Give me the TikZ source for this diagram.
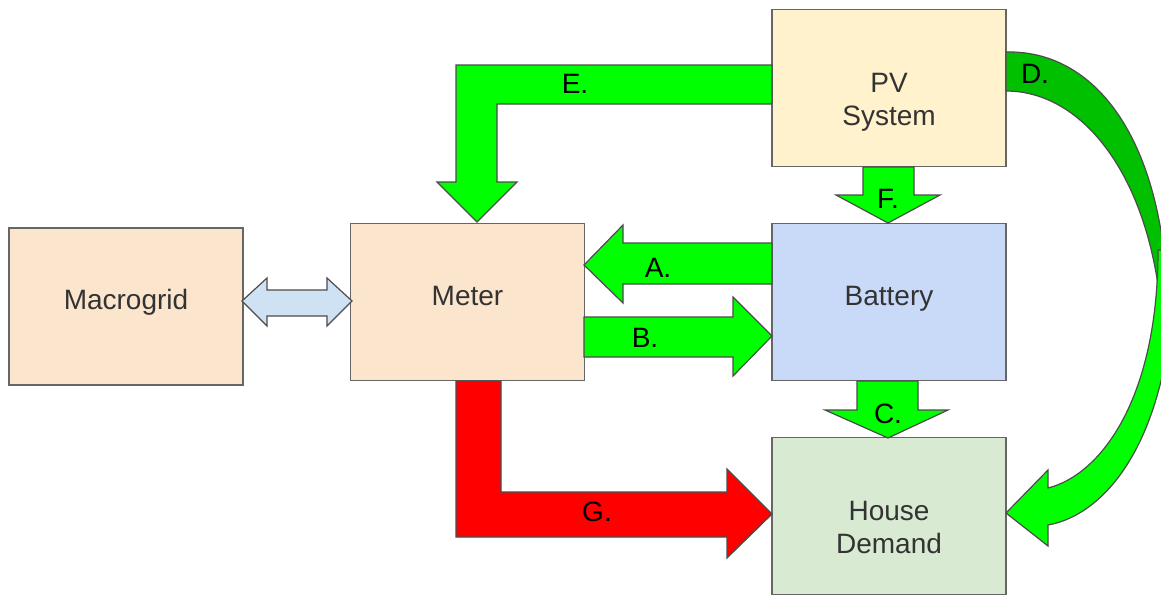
\documentclass[tikz,border=0pt]{standalone}
\usepackage{fontspec}
\setmainfont{Liberation Sans}

\definecolor{gridfill}{HTML}{FCE5CD}
\definecolor{pvfill}{HTML}{FFF2CC}
\definecolor{battfill}{HTML}{C9DAF8}
\definecolor{housefill}{HTML}{D9EAD3}
\definecolor{linkfill}{HTML}{CFE2F3}
\definecolor{flowgreen}{HTML}{00FF00}
\definecolor{flowdark}{HTML}{00C000}
\definecolor{flowred}{HTML}{FF0000}
\definecolor{edgegray}{HTML}{666666}

\begin{document}
\begin{tikzpicture}[
    x=0.5pt, y=-0.5pt,
    line width=0.6pt,
    % Style for the blocks
    block/.style={draw=edgegray, rectangle, inner sep=0pt,
        minimum width=117pt, minimum height=78.5pt,
        font=\fontsize{14}{16.5}\selectfont, text=black!80,
        text height=0.8em, text depth=0.5em},
    block2/.style={block, align=center, text height=37pt, text depth=0pt},
    % Style for the block arrows
    flow/.style={draw=black!70, fill=flowgreen, line join=miter},
    flow label/.style={anchor=base, inner sep=0pt, font=\fontsize{14}{16.5}\selectfont}
]
    \useasboundingbox (0,0) rectangle (1161,595);

    % ==========================
    % Blocks
    % ==========================
    \node[block, fill=gridfill] (macrogrid) at (126,306.5) {Macrogrid};
    \node[block, fill=gridfill] (meter) at (467.5,302) {Meter};
    \node[block2, fill=pvfill] (pv) at (889,88) {PV\\System};
    \node[block, fill=battfill] (battery) at (889,302) {Battery};
    \node[block2, fill=housefill] (house) at (889,516) {House\\Demand};

    % ==========================
    % Macrogrid <-> Meter
    % ==========================
    \draw[flow, fill=linkfill]
        (242,301) -- (267,278) -- (267,290) -- (327,290) -- (327,278)
        -- (352,301) -- (327,326) -- (327,316) -- (267,316) -- (267,326) -- cycle;

    % ==========================
    % Straight flows A, B, C, F
    % ==========================
    % A: battery to meter
    \draw[flow] (772,243) -- (623,243) -- (623,225) -- (584,265)
        -- (623,303) -- (623,284) -- (772,284) -- cycle;
    % B: meter to battery
    \draw[flow] (584,317) -- (733,317) -- (733,297) -- (772,336)
        -- (733,376) -- (733,357) -- (584,357) -- cycle;
    % C: battery to house
    \draw[flow] (857,381) -- (857,410) -- (825,410) -- (888,438)
        -- (948,410) -- (918,410) -- (918,381) -- cycle;
    % F: pv to battery
    \draw[flow] (863,167) -- (863,195) -- (836,195) -- (888,223)
        -- (940,195) -- (914,195) -- (914,167) -- cycle;

    % ==========================
    % Bent flows E and G
    % ==========================
    % E: pv to meter
    \draw[flow] (772,65) -- (456,65) -- (456,182) -- (437,182) -- (477,222)
        -- (517,182) -- (497,182) -- (497,104) -- (772,104) -- cycle;
    % G: meter to house (from the grid)
    \draw[flow, fill=flowred] (456,381) -- (456,537) -- (727,537) -- (727,558)
        -- (772,514) -- (727,469) -- (727,492) -- (501,492) -- (501,381) -- cycle;

    % ==========================
    % Curved flow D (runs past the right edge)
    % ==========================
    \begin{scope}
        \clip (0,0) rectangle (1161,595);
        % back part, shaded
        \draw[flow, fill=flowdark] (1006,52) .. controls (1085,50) and (1150,120) .. (1165,260)
            -- (1172,300) -- (1160,300) .. controls (1145,170) and (1080,91) .. (1006,91) -- cycle;
        % front part with the head
        \draw[flow] (1158,250) .. controls (1158,400) and (1100,475) .. (1048,488)
            -- (1048,470) -- (1006,513) -- (1048,546) -- (1048,525)
            .. controls (1105,515) and (1175,440) .. (1175,250) -- cycle;
    \end{scope}

    % ==========================
    % Flow labels
    % ==========================
    \node[flow label] (lblA) at (658,277) {A.};
    \node[flow label] (lblB) at (645,347) {B.};
    \node[flow label] (lblC) at (888,423) {C.};
    \node[flow label] (lblD) at (1035,83) {D.};
    \node[flow label] (lblE) at (575,93) {E.};
    \node[flow label] (lblF) at (888,208) {F.};
    \node[flow label] (lblG) at (597,521) {G.};

\end{tikzpicture}
\end{document}
